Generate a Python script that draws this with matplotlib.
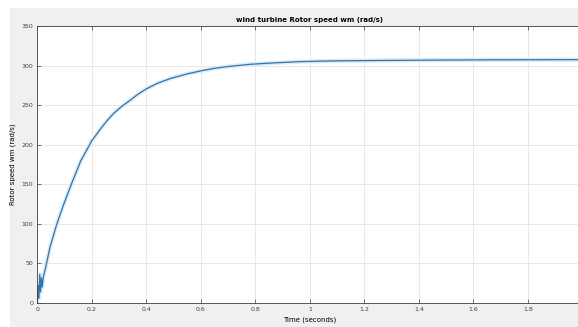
import numpy as np
import matplotlib.pyplot as plt
from matplotlib.patches import Rectangle

# values
t = [0.0, 0.003, 0.006, 0.009, 0.012, 0.015, 0.018, 0.022, 0.03, 0.047, 0.07,
     0.095, 0.126, 0.16, 0.2, 0.23, 0.255, 0.28, 0.31, 0.34, 0.37, 0.4, 0.44,
     0.487, 0.55, 0.603, 0.65, 0.7, 0.78, 0.88, 0.964, 1.1, 1.33, 1.5, 1.7,
     1.85, 2.0]
w = [0.0, 22, 6, 36, 14, 32, 20, 33, 44, 71, 98,
     123, 151, 180, 205, 219, 230, 239.5, 248.5, 256, 264, 270.5, 277.5,
     283.5, 289.5, 293.5, 296.5, 298.8, 301.6, 303.6, 305, 306, 306.6, 307,
     307.3, 307.4, 307.5]

xticks = [0, 0.2, 0.4, 0.6, 0.8, 1, 1.2, 1.4, 1.6, 1.8]
yticks = [0, 50, 100, 150, 200, 250, 300, 350]

fig = plt.figure(figsize=(5.78, 3.27), dpi=100, facecolor="white")
bg = Rectangle((10/578, 0), 1, 1 - 8/327, transform=fig.transFigure,
               facecolor="#f0f0f0", edgecolor="none", zorder=-10)
fig.add_artist(bg)

ax = fig.add_axes([37.3/578, 24/327, 545/578, 277/327])
ax.set_zorder(1)
ax.set_facecolor("white")

ax.plot(t, w, color="#d8ecfa", lw=3, solid_capstyle="round", solid_joinstyle="round")
ax.plot(t, w, color="#3572a8", lw=0.9, solid_joinstyle="round")

ax.set_xlim(0, 2)
ax.set_ylim(0, 350)
ax.set_xticks(xticks)
ax.set_yticks(yticks)
ax.set_xticklabels([f"{v:g}" for v in xticks])
ax.tick_params(direction="in", length=3, width=0.5, labelsize=4.5, colors="#404040",
               top=True, right=True, pad=3)
ax.grid(True, color="#e4e4e4", lw=0.6)
for s in ax.spines.values():
    s.set_color("#404040")
    s.set_linewidth(0.6)

ax.set_title("wind turbine Rotor speed wm (rad/s)", fontsize=5, fontweight="bold", pad=3)
ax.set_xlabel("Time (seconds)", fontsize=5, labelpad=3)
ax.set_ylabel("Rotor speed wm (rad/s)", fontsize=5, labelpad=4)

fig.savefig("out.png", dpi=100)
